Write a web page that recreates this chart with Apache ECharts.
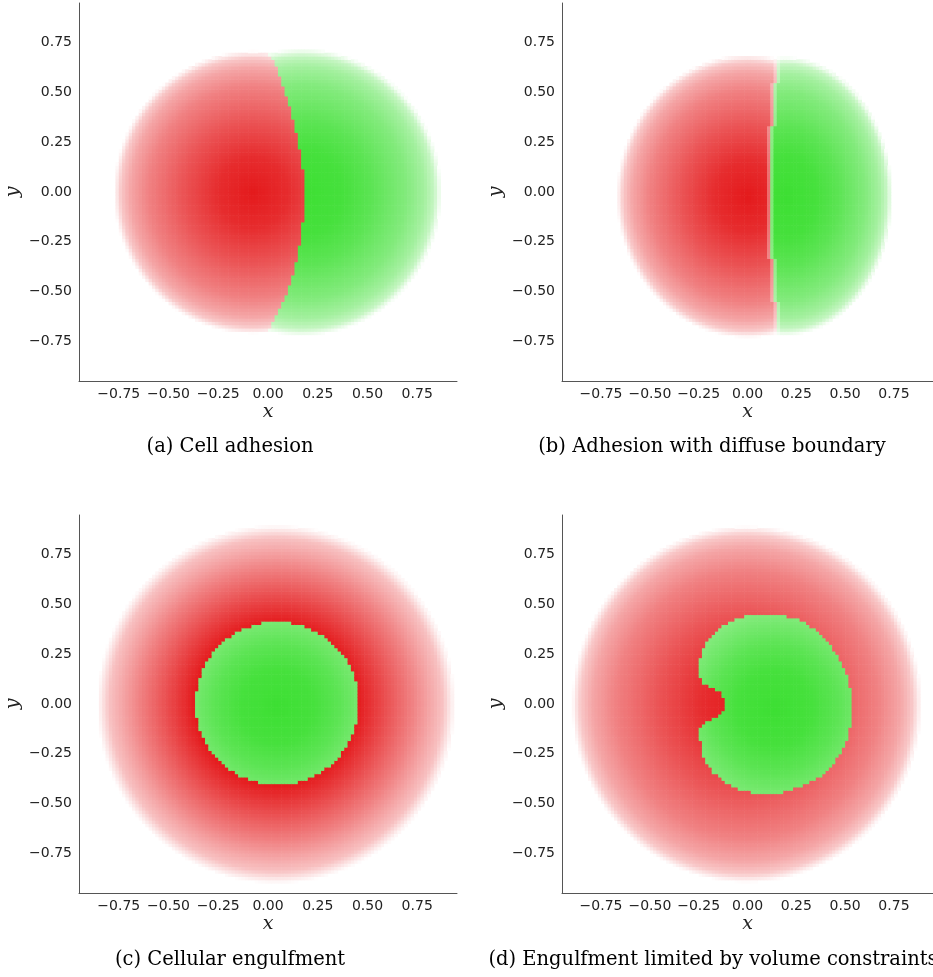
<!DOCTYPE html>
<html><head><meta charset="utf-8">
<script src="https://cdn.jsdelivr.net/npm/echarts@6/dist/echarts.min.js"></script>
<style>html,body{margin:0;padding:0;background:#fff}#c{width:933px;height:977px}</style>
</head><body><div id="c"></div>
<script>
// ---------------- values ----------------
const tickValues = [-0.75, -0.5, -0.25, 0, 0.25, 0.5, 0.75];
const axisMin = -0.95, axisMax = 0.95;
const captions = ['(a) Cell adhesion', '(b) Adhesion with diffuse boundary',
                  '(c) Cellular engulfment', '(d) Engulfment limited by volume constraints'];
const cellSize = 2 / 120;                       // simulation grid spacing

// intensity of a cell versus normalised distance from its centre
const fadeDist   = [0, 0.25, 0.5, 0.75, 0.88, 0.95, 1.0];
const fadeAlpha  = [1, 0.92, 0.75, 0.55, 0.39, 0.24, 0];
const fadeDistC  = [0, 0.45, 0.59, 0.76, 0.93, 1.0];
const fadeAlphaC = [1, 1.0, 0.80, 0.55, 0.27, 0];
const greenFadeDist  = [0, 0.3, 0.5, 0.75, 0.88, 0.95, 1.0];
const greenFadeAlpha = [1, 0.95, 0.84, 0.64, 0.47, 0.30, 0];

// (a) cell adhesion
const aRedCentre = [-0.075, 0.0],  aRedRadius = [0.70, 0.71];
const aGreenCentre = [0.17, 0.0],  aGreenRadius = [0.70, 0.72];
const aBoundaryY = [-0.703, -0.653, -0.594, -0.527, -0.460, -0.376, -0.292, -0.208, -0.107, 0.077, 0.161, 0.245, 0.329, 0.396, 0.463, 0.530, 0.580, 0.631, 0.673, 0.706];
const aBoundaryX = [-0.007, 0.027, 0.057, 0.086, 0.111, 0.136, 0.153, 0.169, 0.181, 0.181, 0.169, 0.153, 0.136, 0.119, 0.097, 0.077, 0.057, 0.040, 0.018, -0.007];

// (b) adhesion with diffuse boundary
const bRedCentre = [0.0, -0.02],   bRedRadius = [0.67, 0.71];
const bGreenCentre = [0.19, -0.02], bGreenRadius = [0.55, 0.70];
const bBoundaryYEdges = [-0.544, -0.325, 0.329, 0.547];
const bBoundaryX = [0.154, 0.138, 0.121, 0.138, 0.154];
const bDiffuseFactor = 0.68;

// (c) cellular engulfment
const cRedCentre = [0.04, 0.0],    cRedRadius = [0.90, 0.90];
const cGreenCentre = [0.045, -0.01], cGreenRadius = [0.62, 0.62];
const cGreenDisk = [0.046, 0.005, 0.41];         // centre x, centre y, radius

// (d) engulfment limited by volume constraints
const dRedCentre = [-0.005, 0.0],  dRedRadius = [0.895, 0.895];
const dGreenCentre = [0.14, -0.02], dGreenRadius = [0.64, 0.64];
const dGreenX = [0.037, 0.163, 0.263, 0.347, 0.414, 0.465, 0.498, 0.523, 0.532, 0.532, 0.515, 0.481, 0.431, 0.364, 0.280, 0.163, 0.037, -0.072, -0.139, -0.190, -0.223, -0.240, -0.245, -0.231, -0.190, -0.148, -0.122, -0.114, -0.122, -0.148, -0.190, -0.231, -0.245, -0.245, -0.231, -0.206, -0.156, -0.089, -0.022];
const dGreenY = [0.450, 0.450, 0.428, 0.377, 0.310, 0.243, 0.176, 0.109, 0.008, -0.075, -0.159, -0.243, -0.310, -0.369, -0.411, -0.448, -0.448, -0.419, -0.377, -0.327, -0.268, -0.210, -0.126, -0.101, -0.075, -0.059, -0.034, 0.0, 0.034, 0.067, 0.084, 0.109, 0.143, 0.210, 0.277, 0.327, 0.377, 0.419, 0.441];

// ---------------- colours ----------------
const redRGB = [228, 26, 28];
const greenRGB = [61, 223, 51];

// ---------------- helpers ----------------
function profile(ds, as, t) {
  if (t >= ds[ds.length - 1]) return 0;
  for (let i = 1; i < ds.length; i++) {
    if (t <= ds[i]) { const f = (t - ds[i - 1]) / (ds[i] - ds[i - 1]); return as[i - 1] + f * (as[i] - as[i - 1]); }
  }
  return 0;
}
function ell(x, y, c, r) { const dx = (x - c[0]) / r[0], dy = (y - c[1]) / r[1]; return Math.sqrt(dx * dx + dy * dy); }
function lookup(ys, xs, y) {
  if (y <= ys[0]) return xs[0];
  if (y >= ys[ys.length - 1]) return xs[xs.length - 1];
  for (let i = 1; i < ys.length; i++) if (y <= ys[i]) { const f = (y - ys[i - 1]) / (ys[i] - ys[i - 1]); return xs[i - 1] + f * (xs[i] - xs[i - 1]); }
}
function stepLookup(edges, xs, y) { let i = 0; while (i < edges.length && y > edges[i]) i++; return xs[i]; }
function inPoly(px, py, X, Y) {
  let inside = false;
  for (let i = 0, j = X.length - 1; i < X.length; j = i++) {
    if (((Y[i] > py) !== (Y[j] > py)) && (px < (X[j] - X[i]) * (py - Y[i]) / (Y[j] - Y[i]) + X[i])) inside = !inside;
  }
  return inside;
}
const green = (x, y, c, r) => profile(greenFadeDist, greenFadeAlpha, ell(x, y, c, r));
const red = (x, y, c, r) => profile(fadeDist, fadeAlpha, ell(x, y, c, r));

function buildPanel(kindAlpha) {
  const out = [];
  const n = Math.round(2 / cellSize);
  for (let i = 0; i < n; i++) for (let j = 0; j < n; j++) {
    const x = -1 + (i + 0.5) * cellSize, y = -1 + (j + 0.5) * cellSize;
    const r = kindAlpha(x, y);
    if (r[1] > 0.008) out.push([x, y, r[0], r[1]]);
  }
  return out;
}

const panelData = [
  buildPanel((x, y) => {
    const bx = lookup(aBoundaryY, aBoundaryX, y);
    if (x >= bx) return [1, green(x, y, aGreenCentre, aGreenRadius)];
    return [0, red(x, y, aRedCentre, aRedRadius)];
  }),
  buildPanel((x, y) => {
    const bx = stepLookup(bBoundaryYEdges, bBoundaryX, y);
    const near = Math.abs(x - bx) < cellSize ? bDiffuseFactor : 1;
    if (x >= bx) return [1, near * green(x, y, bGreenCentre, bGreenRadius)];
    return [0, near * red(x, y, bRedCentre, bRedRadius)];
  }),
  buildPanel((x, y) => {
    const dx = x - cGreenDisk[0], dy = y - cGreenDisk[1];
    if (dx * dx + dy * dy <= cGreenDisk[2] * cGreenDisk[2]) return [1, green(x, y, cGreenCentre, cGreenRadius)];
    return [0, profile(fadeDistC, fadeAlphaC, ell(x, y, cRedCentre, cRedRadius))];
  }),
  buildPanel((x, y) => {
    if (inPoly(x, y, dGreenX, dGreenY)) return [1, green(x, y, dGreenCentre, dGreenRadius)];
    return [0, red(x, y, dRedCentre, dRedRadius)];
  })
];

// ---------------- layout ----------------
const gridPos = [[79, 3], [562, 3], [79, 515], [562, 515]];
const gridW = 378, gridH = 378;
const capPos = [[230, 447], [712, 447], [230, 960], [713, 960]];
const textColor = '#222';

function fmt(v) { const s = Math.abs(v).toFixed(2); return (v < 0 ? '\u2212' : '') + s; }

const grids = [], xAxes = [], yAxes = [], series = [];
for (let k = 0; k < 4; k++) {
  grids.push({ left: gridPos[k][0], top: gridPos[k][1], width: gridW, height: gridH, containLabel: false });
  const common = {
    gridIndex: k, type: 'value', min: axisMin, max: axisMax,
    axisLine: { show: true, onZero: false, lineStyle: { color: '#555', width: 1 } },
    axisTick: { show: false }, splitLine: { show: false },
    axisLabel: { customValues: tickValues, formatter: fmt, fontFamily: 'DejaVu Sans', fontSize: 14, color: textColor },
    nameLocation: 'middle',
    nameTextStyle: { fontFamily: 'DejaVu Serif', fontStyle: 'italic', fontSize: 19, color: textColor }
  };
  xAxes.push(Object.assign({}, common, { name: 'x', nameGap: 22, axisLabel: Object.assign({}, common.axisLabel, { margin: 6 }) }));
  yAxes.push(Object.assign({}, common, { name: 'y', nameGap: 56, axisLabel: Object.assign({}, common.axisLabel, { margin: 7 }) }));
  series.push({
    type: 'custom', xAxisIndex: k, yAxisIndex: k, data: panelData[k], encode: { x: 0, y: 1 },
    animation: false, silent: true, progressive: 0,
    renderItem: function (params, api) {
      const x = api.value(0), y = api.value(1), kind = api.value(2), a = api.value(3);
      const h = cellSize / 2;
      const p0 = api.coord([x - h, y + h]), p1 = api.coord([x + h, y - h]);
      const C = kind === 1 ? greenRGB : redRGB;
      const col = 'rgb(' + C.map(c => Math.round(255 - a * (255 - c))).join(',') + ')';
      return { type: 'rect', shape: { x: p0[0], y: p0[1], width: p1[0] - p0[0] + 0.6, height: p1[1] - p0[1] + 0.6 }, style: { fill: col } };
    }
  });
}

const graphics = captions.map((t, i) => ({
  type: 'text', x: capPos[i][0], y: capPos[i][1], silent: true,
  style: { text: t, font: '19.5px "DejaVu Serif"', fill: '#000', textAlign: 'center', textVerticalAlign: 'middle' }
}));

const chart = echarts.init(document.getElementById('c'), null, { renderer: 'canvas' });
chart.setOption({
  animation: false, backgroundColor: '#fff',
  grid: grids, xAxis: xAxes, yAxis: yAxes, series: series, graphic: graphics
});
</script></body></html>
